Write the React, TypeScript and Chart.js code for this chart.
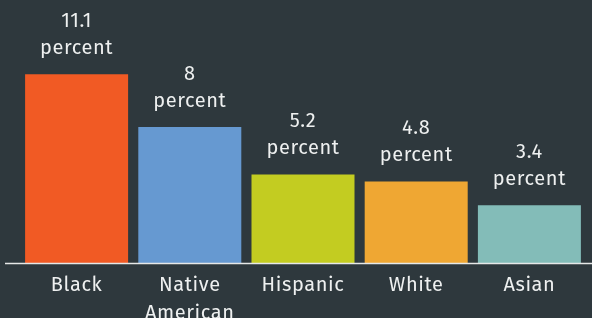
import React, { useEffect, useRef } from "react";
import { Chart, registerables } from "chart.js";

Chart.register(...registerables);

const categories: string[][] = [["Black"], ["Native", "American"], ["Hispanic"], ["White"], ["Asian"]];
const values: number[] = [11.1, 8, 5.2, 4.8, 3.4];
const valueLabels: string[] = ["11.1", "8", "5.2", "4.8", "3.4"];
const unitLabel = "percent";
const barColors: string[] = ["#f15a24", "#6699d1", "#c3cc21", "#efa733", "#83bcb8"];

const BG = "#2e383d";
const TEXT = "#eef0f0";
const FONT = "'Fira Sans', 'Noto Sans', sans-serif";
const FS = 20;

export default function App() {
  const ref = useRef<HTMLCanvasElement | null>(null);

  useEffect(() => {
    if (!ref.current) return;
    const bgPlugin = {
      id: "bg",
      beforeDraw(chart: any) {
        const { ctx, width, height } = chart;
        ctx.letterSpacing = "0.6px";
        ctx.save();
        ctx.fillStyle = BG;
        ctx.fillRect(0, 0, width, height);
        ctx.restore();
      },
    };
    const axisLine = {
      id: "axisLine",
      afterDatasetsDraw(chart: any) {
        const { ctx, chartArea, width } = chart;
        ctx.save();
        ctx.strokeStyle = "#e6e8e8";
        ctx.lineWidth = 1.5;
        ctx.beginPath();
        ctx.moveTo(5, chartArea.bottom + 0.5);
        ctx.lineTo(width, chartArea.bottom + 0.5);
        ctx.stroke();
        ctx.restore();
      },
    };
    const valueText = {
      id: "valueText",
      afterDatasetsDraw(chart: any) {
        const { ctx } = chart;
        const meta = chart.getDatasetMeta(0);
        ctx.save();
        ctx.fillStyle = TEXT;
        ctx.font = `${FS}px ${FONT}`;
        ctx.letterSpacing = "0.6px";
        ctx.textAlign = "center";
        ctx.textBaseline = "middle";
        meta.data.forEach((bar: any, i: number) => {
          ctx.fillText(valueLabels[i], bar.x, bar.y - 53);
          ctx.fillText(unitLabel, bar.x, bar.y - 26);
        });
        ctx.restore();
      },
    };
    const chart = new Chart(ref.current, {
      type: "bar",
      data: {
        labels: categories,
        datasets: [
          {
            data: values,
            backgroundColor: barColors,
            borderWidth: 0,
            barPercentage: 0.91,
            categoryPercentage: 1,
          },
        ],
      },
      options: {
        responsive: false,
        animation: false,
        layout: { padding: { left: 20, right: 6, top: 8, bottom: 0 } },
        plugins: { legend: { display: false }, tooltip: { enabled: false } },
        scales: {
          x: {
            grid: { display: false, drawTicks: false },
            border: { display: false },
            ticks: {
              color: TEXT,
              font: { family: FONT, size: FS, lineHeight: 1.4 },
              padding: 8,
              maxRotation: 0,
              autoSkip: false,
            },
            afterFit(scale: any) {
              scale.height = 55;
            },
          },
          y: {
            display: false,
            min: 0,
            max: 15,
          },
        },
      },
      plugins: [bgPlugin, axisLine, valueText],
    });
    return () => chart.destroy();
  }, []);

  return (
    <div style={{ position: "absolute", left: 0, top: 0, width: 592, height: 318, background: BG }}>
      <canvas ref={ref} width={592} height={318} />
    </div>
  );
}
